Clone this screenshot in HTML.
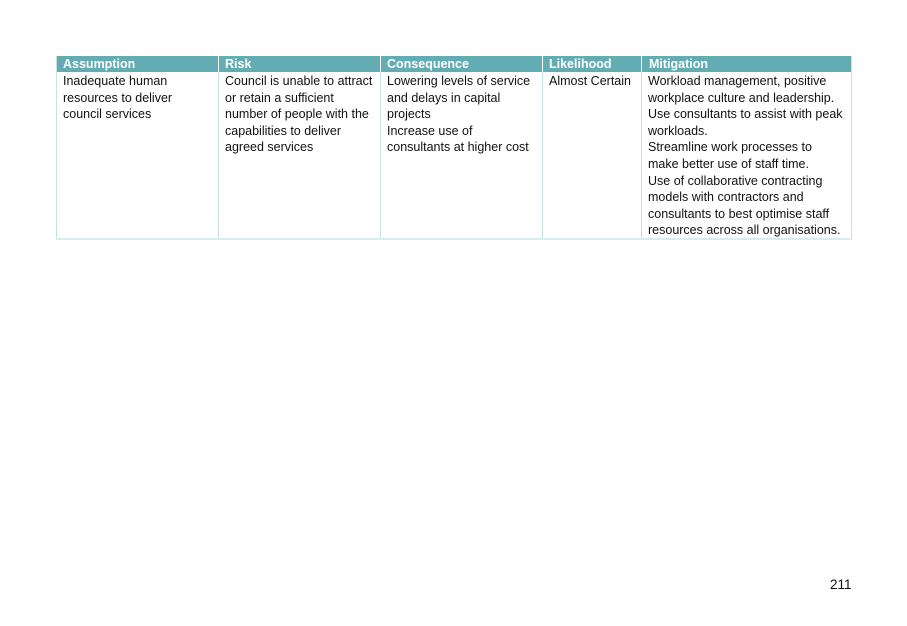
<!DOCTYPE html>
<html><head><meta charset="utf-8"><style>
html,body{margin:0;padding:0;background:#fff;width:907px;height:626px;overflow:hidden;position:relative;font-family:"Liberation Sans",Arial,sans-serif;}
.hdr{position:absolute;top:56px;height:16px;background:#63acb4;color:#fff;font-weight:bold;font-size:12.5px;line-height:16px;}
.hdr span{padding-left:7px;display:block;}
.vl{position:absolute;top:56px;width:1px;height:183px;background:#c5e2e6;}
.vh{position:absolute;top:56px;width:1px;height:16px;background:#fff;}
.cell{position:absolute;top:73px;font-size:12.5px;line-height:16.6px;color:#111;white-space:nowrap;}
.bot{position:absolute;left:56px;top:238px;width:796px;height:2px;background:#d6ecef;}
</style></head><body>
<div class="hdr" style="left:56px;width:162px"><span>Assumption</span></div>
<div class="hdr" style="left:218px;width:162px"><span>Risk</span></div>
<div class="hdr" style="left:380px;width:162px"><span>Consequence</span></div>
<div class="hdr" style="left:542px;width:100px"><span>Likelihood</span></div>
<div class="hdr" style="left:642px;width:210px"><span>Mitigation</span></div>
<div class="vl" style="left:56px"></div>
<div class="vl" style="left:218px"></div>
<div class="vl" style="left:380px"></div>
<div class="vl" style="left:542px"></div>
<div class="vl" style="left:641px"></div>
<div class="vl" style="left:851px"></div>
<div class="vh" style="left:218px"></div>
<div class="vh" style="left:380px"></div>
<div class="vh" style="left:542px"></div>
<div class="vh" style="left:641px"></div>
<div class="bot"></div>
<div class="cell" style="left:63px">Inadequate human<br>resources to deliver<br>council services</div>
<div class="cell" style="left:225px">Council is unable to attract<br>or retain a sufficient<br>number of people with the<br>capabilities to deliver<br>agreed services</div>
<div class="cell" style="left:387px">Lowering levels of service<br>and delays in capital<br>projects<br>Increase use of<br>consultants at higher cost</div>
<div class="cell" style="left:549px">Almost Certain</div>
<div class="cell" style="left:648px">Workload management, positive<br>workplace culture and leadership.<br>Use consultants to assist with peak<br>workloads.<br>Streamline work processes to<br>make better use of staff time.<br>Use of collaborative contracting<br>models with contractors and<br>consultants to best optimise staff<br>resources across all organisations.</div>
<div style="position:absolute;left:830px;top:577px;font-size:13.5px;color:#111;">211</div>
</body></html>
